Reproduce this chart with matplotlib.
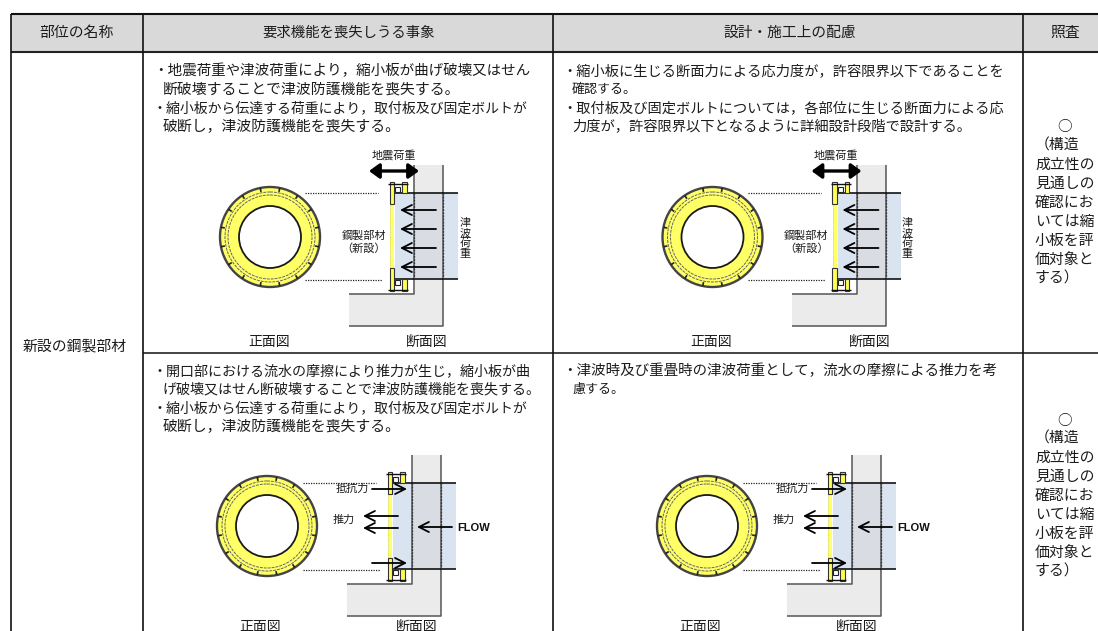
import numpy as np
import matplotlib
matplotlib.use("Agg")
import matplotlib.pyplot as plt
from matplotlib.patches import Rectangle, Circle, Polygon

plt.rcParams['font.family'] = ['Noto Sans CJK JP', 'DejaVu Sans']

# ---- table text -------------------------------------------------------
headers = ["部位の名称", "要求機能を喪失しうる事象", "設計・施工上の配慮", "照査"]
part_name = "新設の鋼製部材"
events_row1 = ["・地震荷重や津波荷重により，縮小板が曲げ破壊又はせん",
               "断破壊することで津波防護機能を喪失する。",
               "・縮小板から伝達する荷重により，取付板及び固定ボルトが",
               "破断し，津波防護機能を喪失する。"]
events_row2 = ["・開口部における流水の摩擦により推力が生じ，縮小板が曲",
               "げ破壊又はせん断破壊することで津波防護機能を喪失する。",
               "・縮小板から伝達する荷重により，取付板及び固定ボルトが",
               "破断し，津波防護機能を喪失する。"]
design_row1 = ["・縮小板に生じる断面力による応力度が，許容限界以下であることを",
               "確認する。",
               "・取付板及び固定ボルトについては，各部位に生じる断面力による応",
               "力度が，許容限界以下となるように詳細設計段階で設計する。"]
design_row2 = ["・津波時及び重畳時の津波荷重として，流水の摩擦による推力を考",
               "慮する。"]
check_lines = ["（構造", "成立性の", "見通しの", "確認にお", "いては縮", "小板を評", "価対象と", "する）"]
check_mark = "○"
front_label = "正面図"
section_label = "断面図"
quake_label = "地震荷重"
steel_label = ["鋼製部材", "（新設）"]
tsunami_label = "津\n波\n荷\n重"
resist_label = "抵抗力"
thrust_label = "推力"
flow_label = "FLOW"

# line ends (px) used to fit widths
ends_ev1 = [530, 468, 527, 414]
ends_ev2 = [531, 541, 527, 414]
ends_de1 = [1001, 630, 1001, 971]
ends_de2 = [996, 617]

fig = plt.figure(figsize=(10.98, 6.31), dpi=100)
ax = fig.add_axes([0, 0, 1, 1])
ax.set_xlim(0, 1098)
ax.set_ylim(631, 0)
ax.axis('off')
renderer = fig.canvas.get_renderer()
INK = '#1c1c1c'


def fit_text(x, y, s, x_end, size=10.3):
    t = ax.text(x, y, s, fontsize=size, color=INK, ha='left', va='center')
    w = t.get_window_extent(renderer).width
    t.set_fontsize(min(10.7, max(9.4, size * (x_end - x) / w)))
    return t


def line(xs, ys, color='k', lw=1.0, ls='-', z=3):
    ax.plot(xs, ys, color=color, lw=lw, ls=ls, zorder=z, solid_capstyle='butt')


def arrow(x0, y0, x1, y1, lw=1.3):
    ax.annotate('', xy=(x1, y1), xytext=(x0, y0), zorder=6,
                arrowprops=dict(arrowstyle='->,head_length=0.65,head_width=0.33',
                                lw=lw, color='k', shrinkA=0, shrinkB=0,
                                mutation_scale=11))


# ---- table ------------------------------------------------------------
X_COLS = [11, 143, 553, 1023]
Y_TOP, Y_HEAD, Y_ROW = 14, 52, 353
ax.add_patch(Rectangle((11, Y_TOP), 1087, Y_HEAD - Y_TOP, fc='#D9D9D9', ec='none', zorder=0))
line([11, 1098], [Y_TOP, Y_TOP], '#111', 1.5)
line([11, 1098], [Y_HEAD, Y_HEAD], '#222', 1.5)
line([143, 1098], [Y_ROW, Y_ROW], '#111', 1.1)
for xc in X_COLS:
    line([xc, xc], [Y_TOP, 631], '#111', 1.2)

head_spans = [(39, 116), (262, 434), (723, 855), (1050, 1081)]
for s, (a, b) in zip(headers, head_spans):
    fit_text(a, 33, s, b)
fit_text(23, 346, part_name, 130)

for lines_, ends, x0, y0s in [
    (events_row1, ends_ev1, 153, [71, 89.5, 108.5, 127]),
    (events_row2, ends_ev2, 153, [371, 389.5, 408.5, 427]),
    (design_row1, ends_de1, 562, [71, 89.5, 108.5, 127]),
    (design_row2, ends_de2, 562, [371, 389.5]),
]:
    for s, e, y in zip(lines_, ends, y0s):
        x = x0 if s.startswith('・') else x0 + 10
        fit_text(x, y, s, e)

for y_mark, y_first in [(127, 146), (421, 439)]:
    ax.text(1065, y_mark, check_mark, fontsize=10.5, color=INK, ha='center', va='center')
    for i, s in enumerate(check_lines):
        ax.text(1035, y_first + 19 * i, s, fontsize=10.7, color=INK, ha='left', va='center')


# ---- diagrams ---------------------------------------------------------
def ring(cx, cy):
    ax.add_patch(Circle((cx, cy), 50, fc='#FFFF66', ec='#444444', lw=1.7, zorder=2))
    for r in (42, 45):
        ax.add_patch(Circle((cx, cy), r, fc='none', ec='#666', lw=0.7, ls=(0, (3, 1)), zorder=3))
    for a in np.deg2rad(np.arange(0, 360, 22.5) + 11.25):
        line([cx + 46 * np.cos(a), cx + 50 * np.cos(a)],
             [cy + 46 * np.sin(a), cy + 50 * np.sin(a)], '#222', 1.2, z=4)
    ax.add_patch(Circle((cx, cy), 31, fc='white', ec='#1a1a1a', lw=1.3, zorder=4))


def section(dx, dy, ydots=(193, 280), dot_end=(378, 382)):
    X = lambda v: v + dx
    Y = lambda v: v + dy
    # wall
    wall = [(414, 165), (443, 165), (443, 326), (349, 326), (349, 294), (414, 294)]
    ax.add_patch(Polygon([(X(a), Y(b)) for a, b in wall], fc='#EBEBEB', ec='none', zorder=1))
    line([X(414), X(414), X(349)], [Y(165), Y(294), Y(294)], '#555', 1.1)
    line([X(443), X(443), X(349)], [Y(165), Y(326), Y(326)], '#555', 1.1)
    # water
    ax.add_patch(Rectangle((X(395), Y(193)), 63, 86, fc='#DAE3F0', ec='none', zorder=2))
    ax.add_patch(Rectangle((X(414), Y(193)), 29, 86, fc='#D9DCE3', ec='none', zorder=2))
    line([X(394), X(458)], [Y(193), Y(193)], 'k', 1.1, z=4)
    line([X(394), X(458)], [Y(279), Y(279)], 'k', 1.1, z=4)
    for xx in (414, 443):
        line([X(xx), X(xx)], [Y(193), Y(279)], '#333', 0.9, ls=(0, (1.5, 1)), z=4)
    # plates
    ax.add_patch(Rectangle((X(390), Y(204)), 4, 64, fc='#FFFF66', ec='none', zorder=4))
    line([X(390), X(390)], [Y(204), Y(268)], '#aaa', 0.5, ls=':', z=4)
    for yy, h in [(182, 22), (268, 23)]:
        ax.add_patch(Rectangle((X(389.5), Y(yy)), 4.5, h, fc='#FFFF55', ec='#333', lw=0.8, zorder=5))
    for yy, h in [(182, 11), (279, 12)]:
        ax.add_patch(Rectangle((X(402), Y(yy)), 4.5, h, fc='#FFFF55', ec='#333', lw=0.8, zorder=5))
    for yy in (183.5, 289.5):
        line([X(388), X(408)], [Y(yy), Y(yy)], '#111', 1.0, z=6)
    for yy in (187, 280):
        ax.add_patch(Rectangle((X(395), Y(yy)), 5, 5, fc='white', ec='#222', lw=0.8, zorder=5))
    # dotted leader lines
    line([X(305), X(dot_end[0])], [Y(ydots[0]), Y(ydots[0])], '#222', 0.9, ls=(0, (1, 1)))
    line([X(305), X(dot_end[1])], [Y(ydots[1]), Y(ydots[1])], '#222', 0.9, ls=(0, (1, 1)))


def labels(x_front, x_section, y):
    ax.text(x_front, y, front_label, fontsize=10, color=INK, ha='center', va='center', clip_on=True)
    ax.text(x_section, y, section_label, fontsize=10, color=INK, ha='center', va='center', clip_on=True)


def quake_diagram(dx):
    ring(270 + dx, 237)
    section(dx, 0)
    ax.annotate('', xy=(419 + dx, 171), xytext=(369 + dx, 171), zorder=6,
                arrowprops=dict(arrowstyle='<|-|>,head_length=0.55,head_width=0.4',
                                lw=2.4, color='k', shrinkA=0, shrinkB=0, mutation_scale=11))
    for y in (210, 229, 248, 267):
        arrow(436 + dx, y, 400 + dx, y)
    ax.text(393.5 + dx, 155, quake_label, fontsize=8, color=INK, ha='center', va='center')
    ax.text(364 + dx, 236, steel_label[0], fontsize=8, color=INK, ha='center', va='center')
    ax.text(364 + dx, 249, steel_label[1], fontsize=8, color=INK, ha='center', va='center')
    ax.text(465 + dx, 238.5, tsunami_label, fontsize=8, color=INK, ha='center', va='center',
            linespacing=1.0)
    labels(269 + dx, 427 + dx, 342)


def flow_diagram(dx):
    ring(267 + dx, 526)
    section(dx - 2, 290, dot_end=(378, 382))
    arrow(372 + dx, 489, 407 + dx, 489)
    arrow(372 + dx, 563, 407 + dx, 563)
    arrow(398 + dx, 516, 363 + dx, 516)
    arrow(398 + dx, 528, 363 + dx, 528)
    arrow(452 + dx, 527, 417 + dx, 527)
    ax.text(352.5 + dx, 489, resist_label, fontsize=8, color=INK, ha='center', va='center', zorder=7)
    ax.text(344 + dx, 520, thrust_label, fontsize=8, color=INK, ha='center', va='center', zorder=7)
    ax.text(457.5 + dx, 528, flow_label, fontsize=8, family='Liberation Sans', weight='bold',
            color='#111', ha='left', va='center')
    labels(260 + dx, 417 + dx, 627)


quake_diagram(0)
quake_diagram(442.5)
flow_diagram(0)
flow_diagram(440)

fig.savefig('out.png', dpi=100)
